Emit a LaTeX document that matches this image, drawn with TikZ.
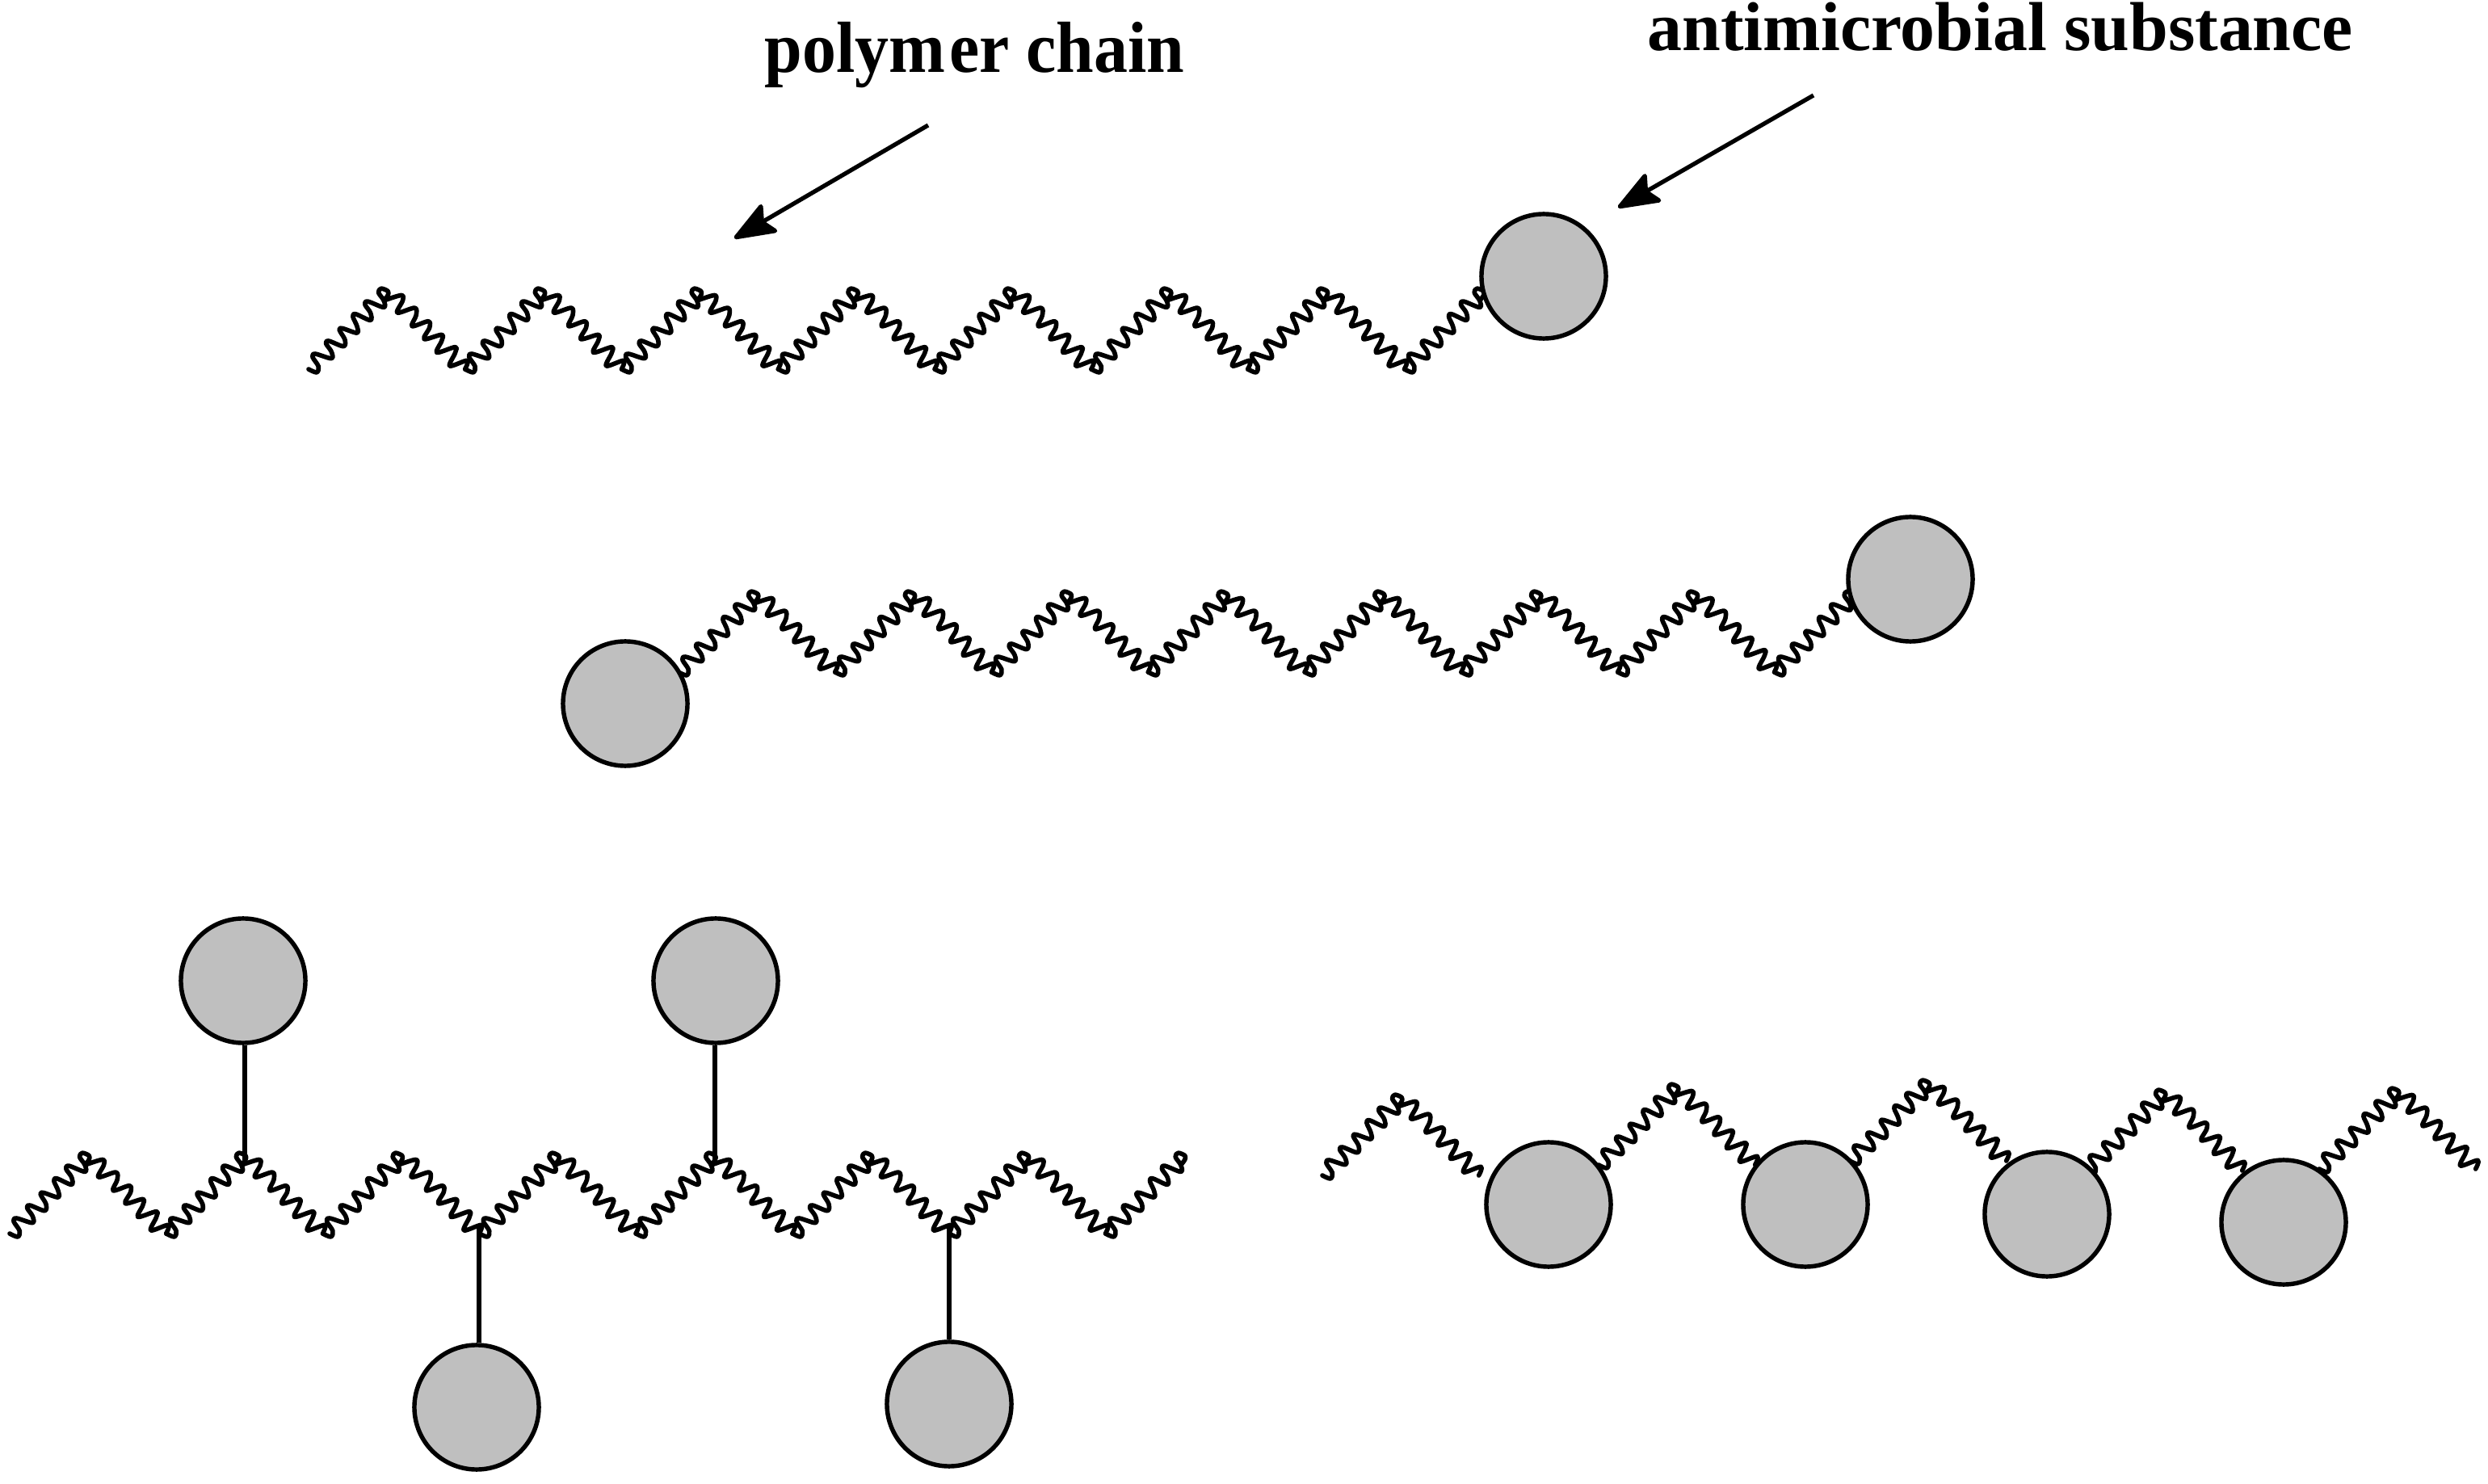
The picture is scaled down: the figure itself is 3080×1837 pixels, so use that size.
\documentclass[tikz,border=0pt]{standalone}
\usepackage{fontspec}
\setmainfont{Liberation Serif}
\usetikzlibrary{arrows.meta}
\definecolor{ballgray}{HTML}{BFBFBF}
\tikzset{
  wig/.style={line width=1.6pt,line cap=round,line join=round},
  ball/.style={circle,draw=black,fill=ballgray,line width=1.55pt,minimum size=1.54cm,inner sep=0pt},
  stem/.style={line width=1.5pt},
  pointer/.style={line width=1.5pt,-{Stealth[length=16.5pt,width=12.5pt,inset=3pt,round]}},
  lbl/.style={font=\bfseries,anchor=base west,inner sep=0pt},
  riseseg/.pic={\draw[wig,x=0.003333cm,y=-0.003333cm] plot[smooth,tension=.55] coordinates {
    (0,0)(30,12)(37,-10)(15,-45)(25,-57)(85,-40)(85,-65)(65,-95)(75,-105)(130,-85)(135,-110)(115,-145)(125,-152)(180,-135)(180,-160)(165,-195)(175,-205)(230,-182)(230,-210)(210,-240)(220,-252)(280,-230)(280,-255)(260,-285)(270,-300)(295,-290)(295,-275)(280,-255)};},
  fallseg/.pic={\draw[wig,x=0.003333cm,y=-0.003333cm] plot[smooth,tension=.55] coordinates {
    (280,-255)(345,-275)(350,-255)(330,-210)(395,-228)(400,-200)(385,-160)(445,-178)(450,-155)(430,-112)(495,-128)(495,-105)(477,-62)(545,-82)(545,-60)(525,-12)(590,-32)(582,0)};},
  periodseg/.pic={\pic{riseseg};\pic{fallseg};}
}
\begin{document}
\begin{tikzpicture}[x=0.01cm,y=-0.01cm]
\useasboundingbox (0,0) rectangle (3080,1837);
% chain 1
\foreach \i in {0,...,6} \pic at ({382+\i*193.8},457) {periodseg};
\pic at ({382+7*193.8},457) {riseseg};
\node[ball] (b1) at (1911,342) {};
% chain 2
\foreach \i in {0,...,6} \pic at ({840+\i*193.8},832) {periodseg};
\pic at ({840+7*193.8},832) {riseseg};
\node[ball] (b2) at (774,871) {};
\node[ball] (b3) at (2365,717) {};
% chain 3
\foreach \i in {0,...,6} \pic at ({12+\i*193.8},1527) {periodseg};
\pic at ({12+7*193.8},1527) {riseseg};
\coordinate (j1) at (303,1436);
\coordinate (j2) at (885,1436);
\coordinate (j3) at (593,1520);
\coordinate (j4) at (1175,1520);
\node[ball] (c1) at (301,1214) {};
\node[ball] (c2) at (886,1214) {};
\node[ball] (c3) at (590,1742) {};
\node[ball] (c4) at (1175,1738) {};
\draw[stem] (j1 |- c1.south) -- (j1);
\draw[stem] (j2 |- c2.south) -- (j2);
\draw[stem] (j3 |- c3.north) -- (j3);
\draw[stem] (j4 |- c4.north) -- (j4);
% chain 4
\pic at (1637,1455) {periodseg};
\pic at (1979,1442) {periodseg};
\pic at (2290,1437) {periodseg};
\pic at (2582,1449) {periodseg};
\pic at (2871,1447) {periodseg};
\node[ball] (d1) at (1917,1491) {};
\node[ball] (d2) at (2235,1491) {};
\node[ball] (d3) at (2534,1503) {};
\node[ball] (d4) at (2827,1513) {};
% labels
\node[lbl,xscale=.935,transform shape,font=\fontsize{25.5}{28}\selectfont\bfseries] (t1) at (946,90) {polym\kern1.5pt er chain};
\node[lbl,font=\fontsize{24.4}{28}\selectfont\bfseries] (t2) at (2039,63) {antimicrobial substance};
\coordinate (a1s) at (1149,155);
\coordinate (a1e) at (909,295);
\coordinate (a2s) at (2245,118);
\coordinate (a2e) at (2003,257);
\draw[pointer] (a1s) -- (a1e);
\draw[pointer] (a2s) -- (a2e);
\end{tikzpicture}
\end{document}
